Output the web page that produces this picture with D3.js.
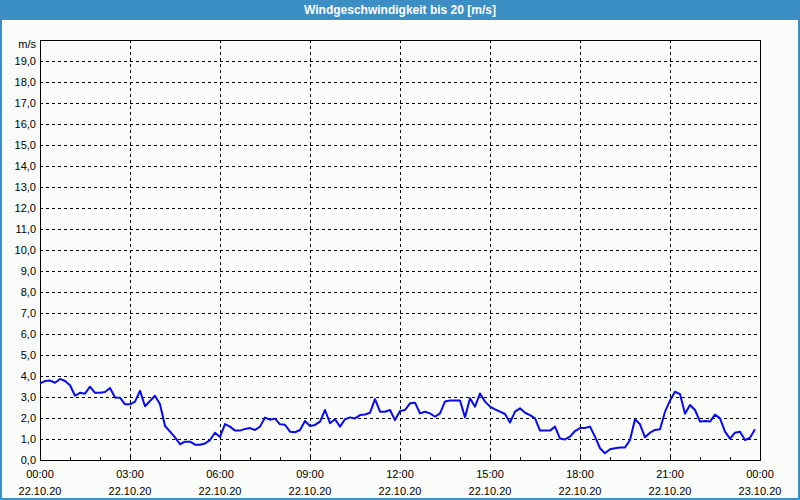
<!DOCTYPE html>
<html><head><meta charset="utf-8">
<script src="https://cdn.jsdelivr.net/npm/d3@7"></script>
<style>
html,body{margin:0;padding:0;background:#fff;}
svg{display:block;}
text{font-family:"Liberation Sans",Arial,sans-serif;}
</style></head>
<body><svg id="c" width="800" height="500"></svg>
<script>
const title = "Windgeschwindigkeit bis 20 [m/s]";
const unitLabel = "m/s";
const startTime = "2020-10-22T00:00:00Z";
const endTime = "2020-10-23T00:00:00Z";
const stepMinutes = 10;
// wind speed, 10-minute values from 00:00
const speeds = [
 3.65,3.76,3.78,3.68,3.86,3.76,3.56,3.06,3.2,3.16,
 3.49,3.2,3.2,3.24,3.43,2.98,2.97,2.65,2.65,2.78,
 3.29,2.56,2.81,3.06,2.65,1.62,1.35,1.08,0.75,0.87,
 0.87,0.73,0.73,0.79,0.95,1.3,1.1,1.71,1.59,1.4,
 1.4,1.48,1.52,1.43,1.59,2.02,1.92,1.97,1.7,1.68,
 1.35,1.32,1.43,1.86,1.62,1.67,1.83,2.38,1.75,1.94,
 1.59,1.94,2.03,1.98,2.14,2.17,2.25,2.9,2.3,2.3,
 2.38,1.9,2.33,2.38,2.7,2.73,2.22,2.3,2.22,2.06,
 2.22,2.79,2.83,2.83,2.83,2.03,2.94,2.54,3.17,2.78,
 2.54,2.41,2.3,2.19,1.78,2.3,2.46,2.25,2.14,1.98,
 1.4,1.4,1.4,1.59,1.02,0.98,1.11,1.38,1.52,1.52,
 1.59,1.11,0.56,0.32,0.51,0.56,0.6,0.6,0.95,1.94,
 1.7,1.08,1.3,1.43,1.46,2.3,2.83,3.25,3.14,2.2,
 2.62,2.38,1.83,1.86,1.83,2.16,1.98,1.35,1.02,1.3,
 1.35,0.95,1.06,1.46
];
const yTicks = [0,1,2,3,4,5,6,7,8,9,10,11,12,13,14,15,16,17,18,19];
const xTickTimes = ["00:00","03:00","06:00","09:00","12:00","15:00","18:00","21:00","00:00"];
const xTickDates = ["22.10.20","22.10.20","22.10.20","22.10.20","22.10.20","22.10.20","22.10.20","22.10.20","23.10.20"];

const svg = d3.select("#c");
const W = 800, H = 500;
const m = {l:40, r:40, t:40, b:40};
const t0 = new Date(startTime), t1 = new Date(endTime);
const x = d3.scaleUtc().domain([t0, t1]).range([m.l, W - m.r]);
const y = d3.scaleLinear().domain([0, 20]).range([H - m.b, m.t]);
const data = speeds.map((v,i)=>({t:new Date(t0.getTime()+i*stepMinutes*60000), v}));

// background & frame
svg.append("rect").attr("x",0).attr("y",0).attr("width",W).attr("height",H).attr("fill","#3c8fc5");
svg.append("rect").attr("x",2).attr("y",20).attr("width",W-4).attr("height",H-22).attr("fill","#f9fcf9");
svg.append("text").attr("x",W/2).attr("y",14).attr("text-anchor","middle")
  .attr("fill","#fff").attr("font-weight","bold").attr("font-size","12px").text(title);

// y grid
svg.append("g").selectAll("line").data(yTicks.filter(d=>d>0)).join("line")
  .attr("x1",m.l).attr("x2",W-m.r).attr("y1",d=>Math.round(y(d))+0.5).attr("y2",d=>Math.round(y(d))+0.5)
  .attr("stroke","#000").attr("stroke-dasharray","3,3").attr("shape-rendering","crispEdges");
// x grid
const majors = d3.utcHour.every(3).range(t0, t1).concat([t1]);
svg.append("g").selectAll("line").data(majors.slice(1,-1)).join("line")
  .attr("x1",d=>Math.round(x(d))+0.5).attr("x2",d=>Math.round(x(d))+0.5).attr("y1",m.t).attr("y2",H-m.b)
  .attr("stroke","#000").attr("stroke-dasharray","3,3").attr("shape-rendering","crispEdges");
// minor hour ticks (inward)
svg.append("g").selectAll("line").data(d3.utcHour.range(t0,t1)).join("line")
  .attr("x1",d=>Math.round(x(d))+0.5).attr("x2",d=>Math.round(x(d))+0.5).attr("y1",H-m.b-3).attr("y2",H-m.b)
  .attr("stroke","#000").attr("shape-rendering","crispEdges");

// plot border
svg.append("rect").attr("x",m.l+0.5).attr("y",m.t+0.5).attr("width",W-m.l-m.r).attr("height",H-m.t-m.b)
  .attr("fill","none").attr("stroke","#000").attr("shape-rendering","crispEdges");

// y labels
svg.append("g").selectAll("text").data(yTicks).join("text")
  .attr("x",m.l-4).attr("y",d=>y(d)+4).attr("text-anchor","end").attr("font-size","11px").attr("fill","#000")
  .text(d=>d3.format(".1f")(d).replace(".",","));
svg.append("text").attr("x",m.l-4).attr("y",m.t+8).attr("text-anchor","end").attr("font-size","11px").text(unitLabel);

// x labels
const xl = svg.append("g").selectAll("g").data(majors).join("g");
xl.append("text").attr("x",d=>x(d)).attr("y",H-m.b+18).attr("text-anchor","middle").attr("font-size","11px")
  .text((d,i)=>xTickTimes[i]);
xl.append("text").attr("x",d=>x(d)).attr("y",H-m.b+35).attr("text-anchor","middle").attr("font-size","11px")
  .text((d,i)=>xTickDates[i]);

// line
svg.append("path").datum(data)
  .attr("d", d3.line().x(d=>x(d.t)).y(d=>y(d.v)))
  .attr("fill","none").attr("stroke","#0a0aee").attr("stroke-width",2).attr("stroke-linejoin","round");
</script></body></html>
